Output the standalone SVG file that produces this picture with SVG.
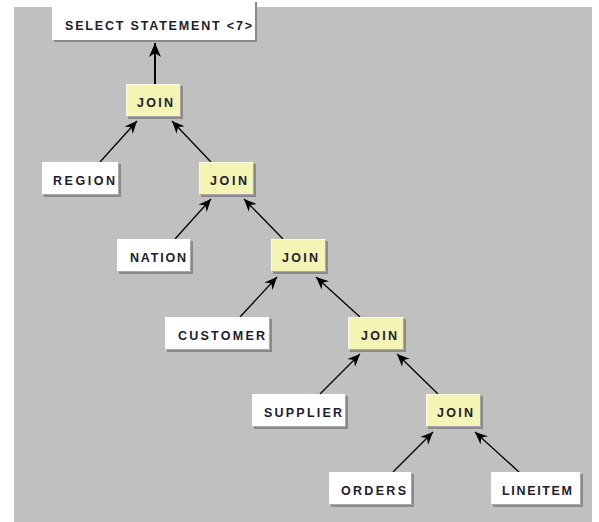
<svg xmlns="http://www.w3.org/2000/svg" width="599" height="522" viewBox="0 0 599 522">
  <defs>
    <style>
      .panel { fill: #c0c0c0; }
      .shadow { fill: #8a8a8a; }
      .plain { fill: #ffffff; }
      .join { fill: #f4f4b4; }
      .hiJ { stroke: #fbfbe2; stroke-width: 1; fill: none; }
      .lo { stroke: #a8a8a8; stroke-width: 1; fill: none; }
      .lbl { font-family: "Liberation Sans", Arial, sans-serif; font-size: 12.5px; font-weight: bold; fill: #20202e; }
      .edge { stroke: #000000; stroke-width: 1.3; fill: none; marker-end: url(#head); }
      .edge.main { stroke-width: 2; marker-end: url(#headBig); }
    </style>
    <marker id="head" markerUnits="userSpaceOnUse" markerWidth="16" markerHeight="14" viewBox="-14 -7 16 14" refX="0" refY="0" orient="auto" overflow="visible">
      <path d="M0,0 L-12.5,-5.5 L-8.5,0 L-12.5,5.5 Z" fill="#000000"/>
    </marker>
    <marker id="headBig" markerUnits="userSpaceOnUse" markerWidth="18" markerHeight="16" viewBox="-16 -8 18 16" refX="0" refY="0" orient="auto" overflow="visible">
      <path d="M0,0 L-14,-6 L-10,0 L-14,6 Z" fill="#000000"/>
    </marker>
  </defs>

  <rect x="0" y="0" width="599" height="522" fill="#ffffff"/>
  <rect class="panel" x="14" y="7" width="578" height="515"/>

  <!-- connectors: each child points up to its parent -->
  <g id="connectors">
    <line class="edge main" x1="155" y1="84" x2="155" y2="43"/>
    <line class="edge" x1="100" y1="162" x2="137" y2="121"/>
    <line class="edge" x1="211" y1="162" x2="172" y2="121"/>
    <line class="edge" x1="175" y1="239" x2="211" y2="199"/>
    <line class="edge" x1="283" y1="239" x2="244" y2="199"/>
    <line class="edge" x1="240" y1="317" x2="277" y2="277"/>
    <line class="edge" x1="360" y1="317" x2="316" y2="277"/>
    <line class="edge" x1="320" y1="394" x2="360" y2="354"/>
    <line class="edge" x1="438" y1="394" x2="397" y2="354"/>
    <line class="edge" x1="393" y1="472" x2="433" y2="432"/>
    <line class="edge" x1="519" y1="472" x2="475" y2="432"/>
  </g>

  <g id="select">
    <rect class="shadow" x="54" y="2" width="203" height="40"/>
    <rect class="plain" x="52" y="0" width="203" height="40"/>
    <text class="lbl" x="65" y="29.5" textLength="187" lengthAdjust="spacing">SELECT STATEMENT &lt;7&gt;</text>
  </g>

  <g id="join1">
    <rect class="shadow" x="128" y="86" width="55" height="33"/>
    <rect class="join" x="126" y="84" width="55" height="33"/>
    <path class="hiJ" d="M126.5,116.5 V84.5 H180.5"/>
    <path class="lo" d="M126.5,116.5 H180.5 V84.5"/>
    <text class="lbl" x="137" y="106.5" textLength="36" lengthAdjust="spacing">JOIN</text>
  </g>

  <g id="region">
    <rect class="shadow" x="44" y="164" width="77" height="33"/>
    <rect class="plain" x="42" y="162" width="77" height="33"/>
    <path class="lo" d="M42.5,194.5 H118.5 V162.5"/>
    <text class="lbl" x="53" y="185" textLength="62" lengthAdjust="spacing">REGION</text>
  </g>

  <g id="join2">
    <rect class="shadow" x="201" y="164" width="55" height="33"/>
    <rect class="join" x="199" y="162" width="55" height="33"/>
    <path class="hiJ" d="M199.5,194.5 V162.5 H253.5"/>
    <path class="lo" d="M199.5,194.5 H253.5 V162.5"/>
    <text class="lbl" x="210" y="185" textLength="37" lengthAdjust="spacing">JOIN</text>
  </g>

  <g id="nation">
    <rect class="shadow" x="119" y="241" width="74" height="33"/>
    <rect class="plain" x="117" y="239" width="74" height="33"/>
    <path class="lo" d="M117.5,271.5 H190.5 V239.5"/>
    <text class="lbl" x="130" y="262" textLength="56" lengthAdjust="spacing">NATION</text>
  </g>

  <g id="join3">
    <rect class="shadow" x="273" y="241" width="55" height="33"/>
    <rect class="join" x="271" y="239" width="55" height="33"/>
    <path class="hiJ" d="M271.5,271.5 V239.5 H325.5"/>
    <path class="lo" d="M271.5,271.5 H325.5 V239.5"/>
    <text class="lbl" x="282" y="262" textLength="36" lengthAdjust="spacing">JOIN</text>
  </g>

  <g id="customer">
    <rect class="shadow" x="167" y="319" width="105" height="33"/>
    <rect class="plain" x="165" y="317" width="105" height="33"/>
    <path class="lo" d="M165.5,349.5 H269.5 V317.5"/>
    <text class="lbl" x="178" y="340" textLength="87" lengthAdjust="spacing">CUSTOMER</text>
  </g>

  <g id="join4">
    <rect class="shadow" x="350" y="319" width="56" height="33"/>
    <rect class="join" x="348" y="317" width="56" height="33"/>
    <path class="hiJ" d="M348.5,349.5 V317.5 H403.5"/>
    <path class="lo" d="M348.5,349.5 H403.5 V317.5"/>
    <text class="lbl" x="361" y="340" textLength="36" lengthAdjust="spacing">JOIN</text>
  </g>

  <g id="supplier">
    <rect class="shadow" x="254" y="396" width="94" height="33"/>
    <rect class="plain" x="252" y="394" width="94" height="33"/>
    <path class="lo" d="M252.5,426.5 H345.5 V394.5"/>
    <text class="lbl" x="264" y="417" textLength="78" lengthAdjust="spacing">SUPPLIER</text>
  </g>

  <g id="join5">
    <rect class="shadow" x="428" y="396" width="55" height="33"/>
    <rect class="join" x="426" y="394" width="55" height="33"/>
    <path class="hiJ" d="M426.5,426.5 V394.5 H480.5"/>
    <path class="lo" d="M426.5,426.5 H480.5 V394.5"/>
    <text class="lbl" x="437" y="417" textLength="36" lengthAdjust="spacing">JOIN</text>
  </g>

  <g id="orders">
    <rect class="shadow" x="331" y="474" width="83" height="33"/>
    <rect class="plain" x="329" y="472" width="83" height="33"/>
    <path class="lo" d="M329.5,504.5 H411.5 V472.5"/>
    <text class="lbl" x="341" y="495" textLength="65" lengthAdjust="spacing">ORDERS</text>
  </g>

  <g id="lineitem">
    <rect class="shadow" x="493" y="474" width="90" height="33"/>
    <rect class="plain" x="491" y="472" width="90" height="33"/>
    <path class="lo" d="M491.5,504.5 H580.5 V472.5"/>
    <text class="lbl" x="502" y="495" textLength="70" lengthAdjust="spacing">LINEITEM</text>
  </g>
</svg>
